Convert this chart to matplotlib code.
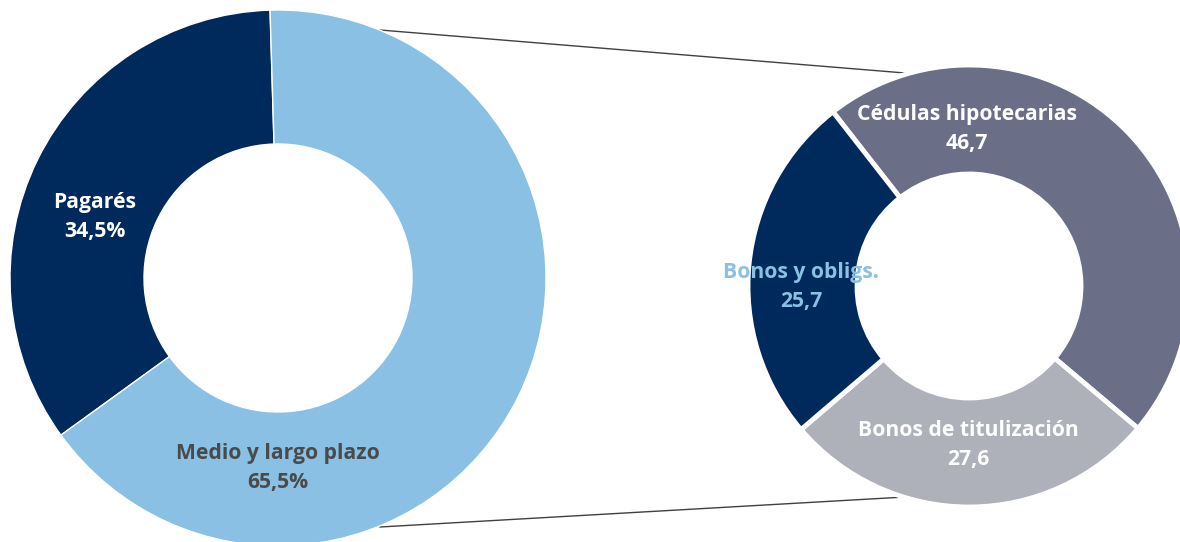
import matplotlib
matplotlib.use("Agg")
import matplotlib.pyplot as plt

plt.rcParams['font.family'] = ['Open Sans', 'DejaVu Sans']

# Issuance split: short term vs. medium/long term (%)
left_labels = ["Pagarés", "Medio y largo plazo"]
left_values = [34.5, 65.5]

# Breakdown of medium and long term issuance
right_labels = ["Cédulas hipotecarias", "Bonos de titulización", "Bonos y obligs."]
right_values = [46.7, 27.6, 25.7]

NAVY = "#002A5C"
LIGHT_BLUE = "#89C0E4"
SLATE = "#6A6E86"
GREY = "#AEB0BA"
DARK_TEXT = "#4A4A4A"

W, H = 1180, 542
fig = plt.figure(figsize=(W / 100, H / 100), dpi=100)
ax = fig.add_axes([0, 0, 1, 1])


def fmt(v, pct):
    s = f"{v:.1f}".replace(".", ",")
    return s + ("%" if pct else "")


# Left donut
lc = (278, H - 278)
lr = 268
ax.pie(left_values, center=lc, radius=lr, startangle=91.7, counterclock=True,
       colors=[NAVY, LIGHT_BLUE],
       wedgeprops=dict(width=134, edgecolor="white", linewidth=1.0))

# Right donut
rc = (969, H - 286)
rr = 221
ax.pie(right_values, center=rc, radius=rr, startangle=128, counterclock=False,
       colors=[SLATE, GREY, NAVY],
       wedgeprops=dict(width=109, edgecolor="white", linewidth=3.5))

# Connector lines between the two rings
ax.plot([380, 905], [H - 30, H - 73], color="#404040", lw=1.0, zorder=0)
ax.plot([380, 905], [H - 527, H - 497], color="#404040", lw=1.0, zorder=0)

fs = 15.2
lbl = dict(ha="center", va="center", fontsize=fs, fontweight="bold", linespacing=1.45)
ax.text(95, H - 217, f"{left_labels[0]}\n{fmt(left_values[0], True)}", color="white", **lbl)
ax.text(278, H - 468, f"{left_labels[1]}\n{fmt(left_values[1], True)}", color=DARK_TEXT, **lbl)
ax.text(967, H - 129, f"{right_labels[0]}\n{fmt(right_values[0], False)}", color="white", **lbl)
ax.text(968, H - 445, f"{right_labels[1]}\n{fmt(right_values[1], False)}", color="white", **lbl)
ax.text(801, H - 287, f"{right_labels[2]}\n{fmt(right_values[2], False)}", color=LIGHT_BLUE, **lbl)

ax.set_xlim(0, W)
ax.set_ylim(0, H)
ax.set_aspect("equal")
ax.axis("off")

fig.savefig("out.png", dpi=100, facecolor="white")
